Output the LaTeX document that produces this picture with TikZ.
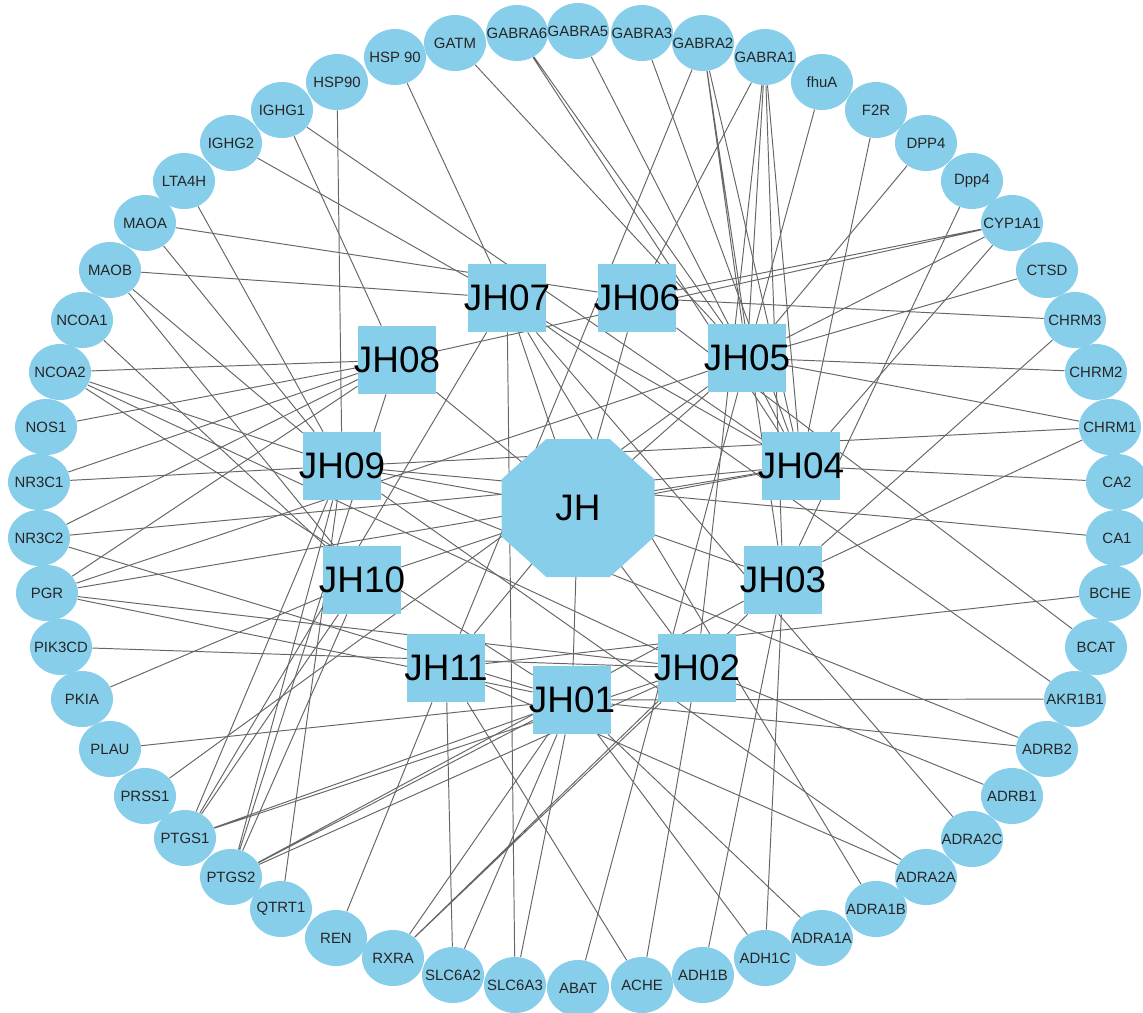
\documentclass[tikz,border=0pt]{standalone}
\usepackage{fontspec}
\setmainfont{Liberation Sans}
\usepackage{xcolor}
\usepackage{tikz}
\usetikzlibrary{shapes,positioning}
\pgfdeclarelayer{background}
\pgfsetlayers{background,main}
\definecolor{nodeblue}{RGB}{135,206,235}

\begin{document}
\begin{tikzpicture}[
        x=0.02cm, y=-0.02cm,
        target/.style={
            ellipse,
            fill=nodeblue,
            minimum width=1.24cm,
            minimum height=1.12cm,
            inner sep=0pt,
            text=black!85,
            font=\fontsize{8.5}{10}\selectfont,
            execute at begin node={\hbox to 0pt\bgroup\hss},
            execute at end node={\hss\egroup}
        },
        compound/.style={
            rectangle,
            fill=nodeblue,
            minimum width=1.56cm,
            minimum height=1.36cm,
            inner sep=0pt,
            font=\fontsize{21}{24}\selectfont,
            execute at begin node={\hbox to 0pt\bgroup\hss},
            execute at end node={\hss\egroup}
        },
        herb/.style={
            inner sep=0pt,
            font=\fontsize{21}{24}\selectfont
        },
        link/.style={
            draw=black!60,
            line width=0.55pt
        }
    ]

    \useasboundingbox (0,0) rectangle (1143,1012);

    % octagon of the herb
    \fill[nodeblue] (546.3,439) -- (609.7,439) -- (654.5,479.4) -- (654.5,536.6)
        -- (609.7,577) -- (546.3,577) -- (501.5,536.6) -- (501.5,479.4) -- cycle;
    \node[herb] (JH) at (578,508) {JH};

    % compounds
    \node[compound] (JH01) at (572,700) {JH01};
    \node[compound] (JH02) at (697,668) {JH02};
    \node[compound] (JH03) at (783,580) {JH03};
    \node[compound] (JH04) at (801,466) {JH04};
    \node[compound] (JH05) at (747,358) {JH05};
    \node[compound] (JH06) at (637,298) {JH06};
    \node[compound] (JH07) at (507,298) {JH07};
    \node[compound] (JH08) at (397,360) {JH08};
    \node[compound] (JH09) at (342,466) {JH09};
    \node[compound] (JH10) at (362,580) {JH10};
    \node[compound] (JH11) at (446,668) {JH11};

    % targets
    \node[target] (HSP90s) at (395,57) {HSP 90};
    \node[target] (HSP90) at (337,82) {HSP90};
    \node[target] (IGHG1) at (282,110) {IGHG1};
    \node[target] (IGHG2) at (231,143) {IGHG2};
    \node[target] (LTA4H) at (184,181) {LTA4H};
    \node[target] (MAOA) at (145,223) {MAOA};
    \node[target] (MAOB) at (110,270) {MAOB};
    \node[target] (NCOA1) at (82,320) {NCOA1};
    \node[target] (NCOA2) at (60,372) {NCOA2};
    \node[target] (NOS1) at (46,427) {NOS1};
    \node[target] (NR3C1) at (39,482) {NR3C1};
    \node[target] (NR3C2) at (39,538) {NR3C2};
    \node[target] (PGR) at (47,593) {PGR};
    \node[target] (PIK3CD) at (61,647) {PIK3CD};
    \node[target] (PKIA) at (82,699) {PKIA};
    \node[target] (PLAU) at (110,749) {PLAU};
    \node[target] (PRSS1) at (145,796) {PRSS1};
    \node[target] (PTGS1) at (185,838) {PTGS1};
    \node[target] (PTGS2) at (231,877) {PTGS2};
    \node[target] (QTRT1) at (281,909) {QTRT1};
    \node[target] (REN) at (336,938) {REN};
    \node[target] (RXRA) at (393,958) {RXRA};
    \node[target] (SLC6A2) at (453,975) {SLC6A2};
    \node[target] (SLC6A3) at (515,985) {SLC6A3};
    \node[target] (ABAT) at (578,988) {ABAT};
    \node[target] (ACHE) at (642,985) {ACHE};
    \node[target] (ADH1B) at (703,975) {ADH1B};
    \node[target] (ADH1C) at (765,958) {ADH1C};
    \node[target] (ADRA1A) at (822,938) {ADRA1A};
    \node[target] (ADRA1B) at (876,909) {ADRA1B};
    \node[target] (ADRA2A) at (926,877) {ADRA2A};
    \node[target] (ADRA2C) at (972,839) {ADRA2C};
    \node[target] (ADRB1) at (1012,796) {ADRB1};
    \node[target] (ADRB2) at (1047,749) {ADRB2};
    \node[target] (AKR1B1) at (1075,699) {AKR1B1};
    \node[target] (BCAT) at (1096,647) {BCAT};
    \node[target] (BCHE) at (1110,593) {BCHE};
    \node[target] (CA1) at (1117,538) {CA1};
    \node[target] (CA2) at (1117,482) {CA2};
    \node[target] (CHRM1) at (1110,427) {CHRM1};
    \node[target] (CHRM2) at (1096,372) {CHRM2};
    \node[target] (CHRM3) at (1075,320) {CHRM3};
    \node[target] (CTSD) at (1047,270) {CTSD};
    \node[target] (CYP1A1) at (1012,223) {CYP1A1};
    \node[target] (Dpp4) at (972,181) {Dpp4};
    \node[target] (DPP4) at (926,143) {DPP4};
    \node[target] (F2R) at (876,110) {F2R};
    \node[target] (fhuA) at (822,82) {fhuA};
    \node[target] (GABRA1) at (765,57) {GABRA1};
    \node[target] (GABRA2) at (703,43) {GABRA2};
    \node[target] (GABRA3) at (642,33) {GABRA3};
    \node[target] (GABRA5) at (578,31) {GABRA5};
    \node[target] (GABRA6) at (517,33) {GABRA6};
    \node[target] (GATM) at (455,43) {GATM};

    \begin{pgfonlayer}{background}
        \draw[link] (JH) -- (JH01) (JH) -- (JH02) (JH) -- (JH03) (JH) -- (JH04)
            (JH) -- (JH05) (JH) -- (JH06) (JH) -- (JH07) (JH) -- (JH08)
            (JH) -- (JH09) (JH) -- (JH10) (JH) -- (JH11);
        \draw[link] (HSP90s) -- (JH07);
        \draw[link] (HSP90) -- (JH09);
        \draw[link] (IGHG1) -- (JH04) (IGHG1) -- (JH08);
        \draw[link] (IGHG2) -- (JH04);
        \draw[link] (LTA4H) -- (JH09);
        \draw[link] (MAOA) -- (JH06) (MAOA) -- (JH09);
        \draw[link] (MAOB) -- (JH07) (MAOB) -- (JH09) (MAOB) -- (JH10);
        \draw[link] (NCOA1) -- (JH10);
        \draw[link] (NCOA2) -- (JH08) (NCOA2) -- (JH09) (NCOA2) -- (JH01) (NCOA2) -- (JH02);
        \draw[link] (NOS1) -- (JH08);
        \draw[link] (NR3C1) -- (JH09) (NR3C1) -- (JH08);
        \draw[link] (NR3C2) -- (JH08) (NR3C2) -- (JH04) (NR3C2) -- (JH01);
        \draw[link] (PGR) -- (JH08) (PGR) -- (JH05) (PGR) -- (JH04) (PGR) -- (JH02) (PGR) -- (JH01);
        \draw[link] (PIK3CD) -- (JH02);
        \draw[link] (PKIA) -- (JH10);
        \draw[link] (PLAU) -- (JH01);
        \draw[link] (PRSS1) -- (JH05);
        \draw[link] (PTGS1) -- (JH09) (PTGS1) -- (JH07) (PTGS1) -- (JH10) (PTGS1) -- (JH01) (PTGS1) -- (JH02);
        \draw[link] (PTGS2) -- (JH09) (PTGS2) -- (JH08) (PTGS2) -- (JH10) (PTGS2) -- (JH01) (PTGS2) -- (JH02) (PTGS2) -- (JH03);
        \draw[link] (QTRT1) -- (JH09);
        \draw[link] (REN) -- (JH11);
        \draw[link] (RXRA) -- (JH01) (RXRA) -- (JH02) (RXRA) -- (JH03);
        \draw[link] (SLC6A2) -- (JH11) (SLC6A2) -- (JH01);
        \draw[link] (SLC6A3) -- (JH07) (SLC6A3) -- (JH01);
        \draw[link] (ABAT) -- (JH05);
        \draw[link] (ACHE) -- (JH11) (ACHE) -- (JH02);
        \draw[link] (ADH1B) -- (JH03);
        \draw[link] (ADH1C) -- (JH01) (ADH1C) -- (JH03);
        \draw[link] (ADRA1A) -- (JH01);
        \draw[link] (ADRA1B) -- (JH07);
        \draw[link] (ADRA2A) -- (JH09) (ADRA2A) -- (JH11);
        \draw[link] (ADRA2C) -- (JH07);
        \draw[link] (ADRB1) -- (JH02);
        \draw[link] (ADRB2) -- (JH01) (ADRB2) -- (JH09);
        \draw[link] (AKR1B1) -- (JH01) (AKR1B1) -- (JH07);
        \draw[link] (BCAT) -- (JH06);
        \draw[link] (BCHE) -- (JH11);
        \draw[link] (CA1) -- (JH09);
        \draw[link] (CA2) -- (JH04);
        \draw[link] (CHRM1) -- (JH05) (CHRM1) -- (JH09) (CHRM1) -- (JH03);
        \draw[link] (CHRM2) -- (JH05);
        \draw[link] (CHRM3) -- (JH06) (CHRM3) -- (JH03);
        \draw[link] (CTSD) -- (JH05);
        \draw[link] (CYP1A1) -- (JH06) (CYP1A1) -- (JH08) (CYP1A1) -- (JH05) (CYP1A1) -- (JH04);
        \draw[link] (Dpp4) -- (JH03);
        \draw[link] (DPP4) -- (JH05);
        \draw[link] (F2R) -- (JH04);
        \draw[link] (fhuA) -- (JH05);
        \draw[link] (GABRA1) -- (JH06) (GABRA1) -- (JH02) (GABRA1) -- (JH05) (GABRA1) -- (JH03) (GABRA1) -- (JH04);
        \draw[link] (GABRA2) -- (JH11) (GABRA2) -- (JH05) (GABRA2) -- (JH04) (GABRA2) -- (JH03);
        \draw[link] (GABRA3) -- (JH04);
        \draw[link] (GABRA5) -- (JH04);
        \draw[link] (GABRA6) -- (JH05) (GABRA6) -- (JH04);
        \draw[link] (GATM) -- (JH05);
    \end{pgfonlayer}

\end{tikzpicture}
\end{document}
